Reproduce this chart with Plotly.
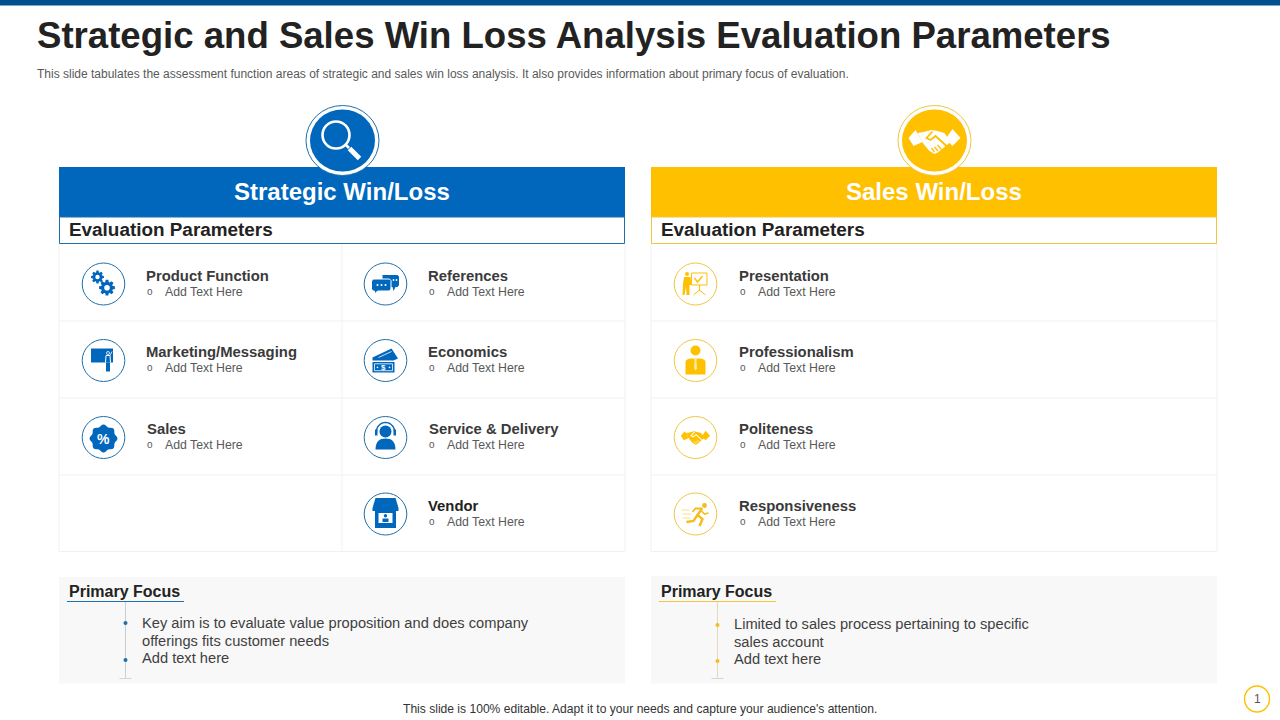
import math
import plotly.graph_objects as go

TITLE = "Strategic and Sales Win Loss Analysis Evaluation Parameters"
SUBTITLE = "This slide tabulates the assessment function areas of strategic and sales win loss analysis. It also provides information about primary focus of evaluation."
FOOTER = "This slide is 100% editable. Adapt it to your needs and capture your audience's attention."
PAGE = "1"
HEAD_LEFT = "Strategic Win/Loss"
HEAD_RIGHT = "Sales Win/Loss"
SECTION = "Evaluation Parameters"
FOCUS = "Primary Focus"
ITEM_NOTE = "Add Text Here"
LEFT_ITEMS_A = ["Product Function", "Marketing/Messaging", "Sales"]
LEFT_ITEMS_B = ["References", "Economics", "Service & Delivery", "Vendor"]
RIGHT_ITEMS = ["Presentation", "Professionalism", "Politeness", "Responsiveness"]
FOCUS_LEFT = ["Key aim is to evaluate value proposition and does company", "offerings fits customer needs", "Add text here"]
FOCUS_RIGHT = ["Limited to sales process pertaining to specific", "sales account", "Add text here"]

BLUE = "#0067BD"
YELLOW = "#FFC000"
RING_BLUE = "#1F6FA8"
RING_YEL = "#F0C63F"
DARK = "#222222"
ITEM = "#3A3A3A"
GREY = "#595959"
GRID = "#F1F1F1"
PANEL = "#F8F8F8"
FONT = "Liberation Sans"

shapes = []
notes = []


def rect(x0, y0, x1, y1, fill=None, line=None, w=1):
    shapes.append(dict(type="rect", x0=x0, y0=y0, x1=x1, y1=y1, fillcolor=fill or "rgba(0,0,0,0)",
                       line=dict(color=line or "rgba(0,0,0,0)", width=w if line else 0)))


def ell(cx, cy, rx, ry=None, fill=None, line=None, w=1):
    ry = rx if ry is None else ry
    shapes.append(dict(type="circle", x0=cx - rx, y0=cy - ry, x1=cx + rx, y1=cy + ry,
                       fillcolor=fill or "rgba(0,0,0,0)",
                       line=dict(color=line or "rgba(0,0,0,0)", width=w if line else 0)))


def seg(x0, y0, x1, y1, color, w=1):
    shapes.append(dict(type="line", x0=x0, y0=y0, x1=x1, y1=y1, line=dict(color=color, width=w)))


def poly(cx, cy, pts, fill=None, line=None, w=1, s=1.0, closed=True):
    d = "M" + " L".join(f"{cx + x * s:.2f},{cy + y * s:.2f}" for x, y in pts) + (" Z" if closed else "")
    shapes.append(dict(type="path", path=d, fillcolor=fill or "rgba(0,0,0,0)",
                       line=dict(color=line or "rgba(0,0,0,0)", width=w if line else 0)))


def text(x, y, t, size, color=DARK, bold=False, anchor="left"):
    notes.append(dict(x=x, y=y, text=f"<b>{t}</b>" if bold else t, showarrow=False, xanchor=anchor, yanchor="middle",
                      font=dict(family=FONT, size=size, color=color), borderpad=0, borderwidth=0))


def gear(cx, cy, r, hole, c=BLUE):
    n = 8
    pts = []
    for i in range(n):
        a = 2 * math.pi * i / n
        for da, rr in ((-0.30, r * 0.74), (-0.17, r), (0.17, r), (0.30, r * 0.74)):
            pts.append((rr * math.cos(a + da), rr * math.sin(a + da)))
    poly(cx, cy, pts, fill=c)
    ell(cx, cy, hole, fill="white")


def i_gears(cx, cy):
    gear(cx + 3.5, cy + 3.7, 8, 2.8)
    gear(cx - 6, cy - 7, 6.5, 2.2)


def i_chat(cx, cy):
    poly(cx, cy, [(-3, -9), (12, -9), (13.5, -7.5), (13.5, 1), (12, 3), (10, 3), (8, 7), (7, 3), (-3, 3)], fill=BLUE)
    poly(cx, cy, [(-12, -5), (4, -5), (5.5, -3.5), (5.5, 5), (4, 7), (-8, 7), (-11, 10), (-11, 7), (-12.5, 7), (-14, 5), (-14, -3)],
         fill=BLUE, line="white", w=1)
    for dx in (-8, -4, 0):
        ell(cx + dx, cy + 1, 1, fill="white")
    ell(cx + 8, cy - 4, 0.9, fill="white")
    ell(cx + 11, cy - 4, 0.9, fill="white")


def i_sign(cx, cy):
    rect(cx - 12.5, cy - 12, cx + 9.5, cy + 2, fill=BLUE)
    rect(cx + 2.5, cy + 2, cx + 6.5, cy + 11, fill=BLUE)
    poly(cx, cy, [(2, 2), (2.5, -5), (6.5, -5), (7, 2)], fill=None, line="white", w=1, closed=False)
    ell(cx + 4.5, cy - 7.5, 1.5, line="white", w=0.8)
    seg(cx + 6.5, cy - 5, cx + 8.5, cy - 9, "white", 0.8)


def i_money(cx, cy):
    poly(cx, cy, [(-13, -3), (6, -12), (12.5, -2), (8, 0), (-13, 0)], fill=BLUE)
    seg(cx - 7, cy - 3, cx + 6, cy - 9, "white", 0.8)
    rect(cx - 13, cy + 1.5, cx + 9, cy + 12, fill=BLUE)
    rect(cx - 11, cy + 3.3, cx + 7, cy + 10.2, fill=None, line="white", w=0.8)
    text(cx - 2, cy + 6.8, "$", 8, "white", True, "center")
    ell(cx - 8, cy + 6.8, 0.9, fill="white")
    ell(cx + 4, cy + 6.8, 0.9, fill="white")


def i_badge(cx, cy):
    pts = []
    n = 64
    for i in range(n):
        a = 2 * math.pi * i / n
        rr = 13 + 1.0 * math.cos(8 * a)
        pts.append((rr * math.cos(a), rr * math.sin(a)))
    poly(cx, cy + 1, pts, fill=BLUE)
    text(cx, cy + 1, "%", 14, "white", True, "center")


def i_headset(cx, cy):
    ell(cx, cy - 6, 6, fill=BLUE)
    arc = [(9 * math.cos(a / 20 * math.pi + math.pi), 9 * math.sin(a / 20 * math.pi + math.pi)) for a in range(21)]
    poly(cx, cy - 6, arc, line=BLUE, w=1.4, closed=False)
    rect(cx - 10.5, cy - 8, cx - 8, cy - 2, fill=BLUE)
    rect(cx + 8, cy - 8, cx + 10.5, cy - 2, fill=BLUE)
    shapes.append(dict(type="path", path=f"M{cx-10},{cy+12} C{cx-10},{cy+4} {cx-6},{cy+1} {cx},{cy+1} C{cx+6},{cy+1} {cx+10},{cy+4} {cx+10},{cy+12} Z",
                       fillcolor=BLUE, line=dict(width=0)))


def i_vendor(cx, cy):
    rect(cx - 10.5, cy - 5, cx + 10.5, cy + 14, fill=BLUE)
    poly(cx, cy, [(-10, -16), (10, -16), (13, -6), (13, -3), (-13, -3), (-13, -6)], fill=BLUE)
    for dx in (-8, -3, 2, 7):
        ell(cx + dx + 0.5, cy - 3, 2.4, fill=BLUE)
    rect(cx - 7, cy - 1, cx + 7, cy + 9, fill="white")
    ell(cx, cy + 1.8, 1.7, fill=BLUE)
    rect(cx - 3, cy + 4.5, cx + 3, cy + 8, fill=BLUE)


def i_present(cx, cy):
    ell(cx - 8.5, cy - 10, 2, fill=YELLOW)
    poly(cx, cy, [(-11.5, -7), (-5, -7), (-4, 1), (-6, 1), (-6, 11), (-9, 11), (-9.5, 2), (-11, 11), (-13, 11), (-12.5, 0)], fill=YELLOW)
    rect(cx - 4, cy - 11, cx + 11.5, cy + 1, line=YELLOW, w=1)
    poly(cx, cy, [(-1, -6), (2, -2), (7, -8)], line=YELLOW, w=1.4, closed=False)
    seg(cx + 4, cy + 1, cx + 4, cy + 7, YELLOW, 1)
    seg(cx + 4, cy + 6, cx - 2, cy + 11, YELLOW, 1)
    seg(cx + 4, cy + 6, cx + 10, cy + 11, YELLOW, 1)


def i_pro(cx, cy):
    ell(cx, cy - 10, 5, fill=YELLOW)
    shapes.append(dict(type="path", path=f"M{cx-10},{cy+14} L{cx-10},{cy+2} C{cx-10},{cy-1} {cx-7},{cy-2} {cx-4},{cy-2} L{cx+4},{cy-2} C{cx+7},{cy-2} {cx+10},{cy-1} {cx+10},{cy+2} L{cx+10},{cy+14} Z",
                       fillcolor=YELLOW, line=dict(width=0)))
    poly(cx, cy, [(-1.3, -2), (1.3, -2), (1, 1), (1.5, 8), (0, 10), (-1.5, 8), (-1, 1)], fill="#FFE9A6")


def i_shake(cx, cy, s, fg, bg):
    w = 1.8 * s
    poly(cx, cy, [(-26, -3), (-19, -11), (-12, 1), (-21, 5)], fill=fg, s=s)
    poly(cx, cy, [(26, -3), (18, -12), (11, -2), (18, 5)], fill=fg, s=s)
    poly(cx, cy, [(-17, -8), (-11, -9), (-3, -11), (3, -10), (10, -8), (16, 1), (10, 6), (4, 11), (0, 13), (-5, 10), (-11, 3)], fill=fg, s=s)
    poly(cx, cy, [(-2, -9.5), (-8, -3), (-4, -1), (1, -5), (12, 5)], line=bg, w=w, s=s, closed=False)
    for a, b in (((3, 4), (7, 8.5)), ((0, 6), (3.5, 10)), ((-3, 7), (0, 11))):
        poly(cx, cy, [a, b], line=bg, w=w * 0.7, s=s, closed=False)


def i_runner(cx, cy):
    c = "#F5BC1C"
    ell(cx + 9, cy - 8.5, 2.4, fill=c)
    poly(cx, cy, [(7, -5.5), (0, -5.5), (-3, -2)], line=c, w=1.8, closed=False)
    poly(cx, cy, [(6.5, -5.5), (2, 1), (7, 5), (4, 12)], line=c, w=2.4, closed=False)
    poly(cx, cy, [(2, 1), (-2, 7), (-9, 8)], line=c, w=2.4, closed=False)
    poly(cx, cy, [(6, -3), (9, 0), (13, -1)], line=c, w=1.6, closed=False)
    for y0, x0, x1 in ((-4, -14, -6), (0, -13, -4), (4, -13, -5)):
        seg(cx + x0, cy + y0, cx + x1, cy + y0, "#FADF8C", 1)


# page furniture
rect(0, 0, 1280, 5.5, fill="#00508F")
text(37, 35, TITLE, 36.6, DARK, True)
text(37, 73.5, SUBTITLE, 12, GREY)
text(640, 708.5, FOOTER, 12.08, "#333333", False, "center")
ell(1257, 699, 12.5, 13, fill="white", line=YELLOW, w=1.4)
text(1257, 699, PAGE, 12, "#555555", False, "center")


def panel(x0, color, ring, head, focus_lines, focus_dy, box_top):
    x1 = x0 + 566
    cx = (x0 + x1) / 2
    # grid
    rect(x0, 243, x1, 551.5, fill="white", line=GRID, w=1)
    for y in (321, 398, 475):
        seg(x0, y, x1, y, GRID, 1)
    # header band and section box
    rect(x0, 167, x1, 217, fill=color)
    rect(x0 + 0.5, 217, x1 - 0.5, 243.5, fill="white", line=ring, w=1)
    text(cx, 191.2, head, 24, "white", True, "center")
    text(x0 + 10, 229, SECTION, 18.9, DARK, True)
    # big disc
    ell(cx + 0.5, 140.5, 36.5, 35, fill="white", line=ring, w=1)
    ell(cx + 0.5, 140.5, 32.5, 31, fill=color)
    # focus panel
    rect(x0, box_top, x1, 683.5, fill=PANEL)
    text(x0 + 10, 591.5, FOCUS, 16, DARK, True)
    seg(x0 + 8, 601.5, x0 + 125, 601.5, ring, 1)
    lx = x0 + 66.5
    seg(lx, 602, lx, 678, "#C9CED3" if color == BLUE else "#E3D9B8", 1)
    seg(lx - 6, 678.5, lx + 6, 678.5, "#D5D5D5", 1)
    for line, y in zip(focus_lines, (622.5, 640.5, 658)):
        text(x0 + 83, y + focus_dy, line, 14.67, "#3F3F3F")


panel(59, BLUE, RING_BLUE, HEAD_LEFT, FOCUS_LEFT, 0.3, 577)
panel(651, YELLOW, RING_YEL, HEAD_RIGHT, FOCUS_RIGHT, 1.3, 576)
seg(342, 244.5, 342, 551, GRID, 1)

# hero icons
ell(336, 135, 13.5, line="white", w=2.6)
seg(346, 145, 349, 148, "white", 2.6)
seg(349.5, 148.5, 359.5, 158.5, "white", 5)
i_shake(934.5, 141, 1.0, "white", YELLOW)

ROWS = (284, 360.5, 437.5, 514)
LABEL_Y = (276, 352, 429, 506)
NOTE_Y = (292, 368, 445, 522)


def column(names, ccx, tx, ring, icons):
    for i, name in enumerate(names):
        ell(ccx, ROWS[i], 21.3, 21, fill="white", line=ring, w=1)
        icons[i](ccx, ROWS[i])
        text(tx + (1 if name in ("Sales", "Service & Delivery") else 0), LABEL_Y[i], name, 14.85, ITEM if name != "Vendor" else DARK, True)
        text(tx + 1, NOTE_Y[i] - 0.2, "o", 10, GREY)
        text(tx + 19, NOTE_Y[i], ITEM_NOTE, 12.3, GREY)


column(LEFT_ITEMS_A, 103.5, 146, RING_BLUE, [i_gears, i_sign, i_badge])
column(LEFT_ITEMS_B, 385.5, 428, RING_BLUE, [i_chat, i_money, i_headset, i_vendor])
column(RIGHT_ITEMS, 695.5, 739, RING_YEL,
       [i_present, i_pro, lambda x, y: i_shake(x, y, 0.56, YELLOW, "white"), i_runner])

# focus bullets as a real trace
bullet_x = [125.5, 125.5]
bullet_y = [623, 660]
bullet_x2 = [717.5, 717.5]
bullet_y2 = [625, 661]

fig = go.Figure()
fig.add_trace(go.Scatter(x=bullet_x, y=bullet_y, mode="markers", marker=dict(color="#1F6FA8", size=4), hoverinfo="skip", showlegend=False))
fig.add_trace(go.Scatter(x=bullet_x2, y=bullet_y2, mode="markers", marker=dict(color="#F5BC1C", size=4), hoverinfo="skip", showlegend=False))

for s in shapes:
    s.update(xref="x", yref="y", layer="below")

fig.update_layout(
    width=1280, height=720, margin=dict(l=0, r=0, t=0, b=0), paper_bgcolor="white", plot_bgcolor="white",
    xaxis=dict(range=[0, 1280], visible=False, fixedrange=True),
    yaxis=dict(range=[720, 0], visible=False, fixedrange=True),
    shapes=shapes, annotations=notes, showlegend=False, font=dict(family=FONT),
)
fig.write_html("out.html", config=dict(displayModeBar=False),
               post_script="document.body.style.margin='0';document.documentElement.style.overflow='hidden';")
